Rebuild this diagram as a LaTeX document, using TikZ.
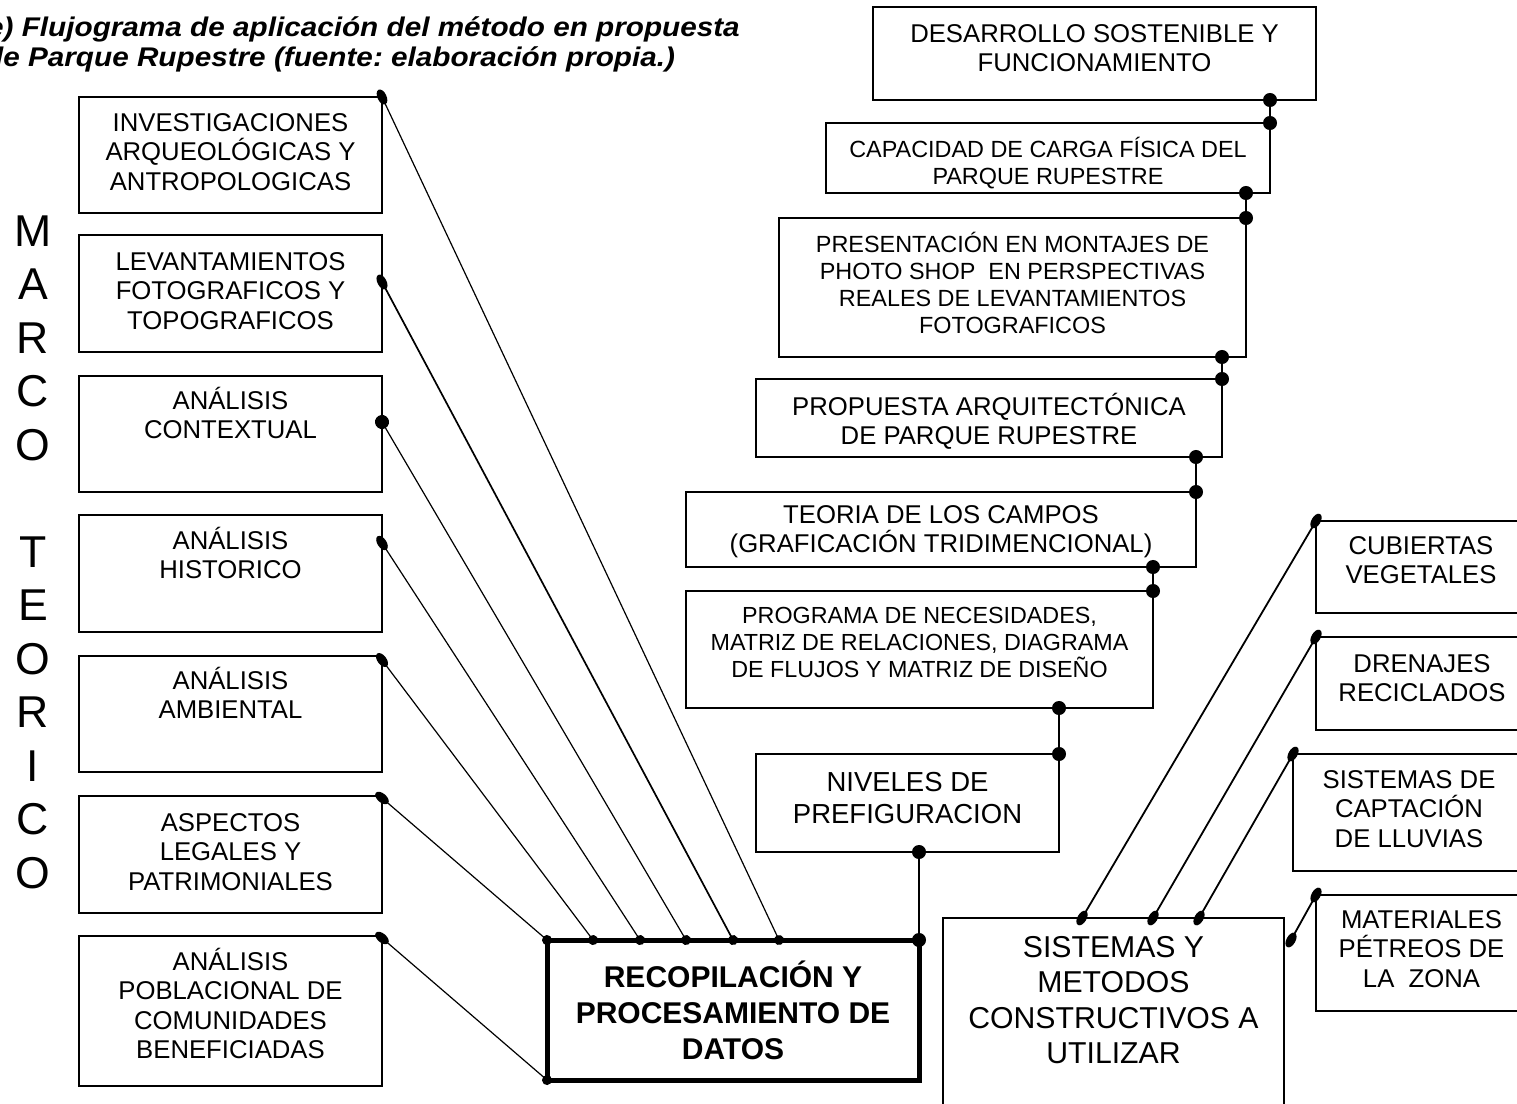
\documentclass[tikz,border=0pt]{standalone}
\usepackage{fontspec}
\setmainfont{Liberation Sans}
\newfontfamily\titlefont[FakeStretch=1.1]{Liberation Sans}
\usetikzlibrary{arrows.meta}
\frenchspacing

% text of a box, set from its top
\newcommand{\boxtxt}[4]{\parbox[c][#2bp][t]{#1bp}{\centering\rule{0pt}{#3bp}#4}}

\begin{document}
\begin{tikzpicture}[x=1bp, y=-1bp,
  box/.style={draw, line width=1.4bp, inner sep=0pt, outer sep=0pt, anchor=north west},
  std/.style={font=\fontsize{25.7bp}{29.6bp}\selectfont},
  small/.style={font=\fontsize{23.4bp}{27bp}\selectfont},
  mid/.style={font=\fontsize{23.3bp}{27bp}\selectfont},
  big/.style={font=\fontsize{27.5bp}{32bp}\selectfont},
  huge/.style={font=\fontsize{30.2bp}{35.5bp}\selectfont},
  mainbox/.style={draw, line width=5bp, inner sep=0pt, outer sep=0pt, anchor=north west,
    minimum width=372bp, minimum height=140bp, align=center,
    font=\bfseries\fontsize{30bp}{36bp}\selectfont},
  marco/.style={font=\fontsize{44.6bp}{53.5bp}\selectfont, inner sep=0pt},
  titulo/.style={font=\titlefont\bfseries\itshape\fontsize{27bp}{32bp}\selectfont, inner sep=0pt},
  fan/.style={line width=1.2bp, {Ellipse[length=16bp,width=9bp]}-{Circle[length=10bp]},
    shorten <=-8bp, shorten >=-5bp},
  fanc/.style={fan, {Circle[length=14bp]}-{Circle[length=10bp]}, shorten <=-7bp},
  vlink/.style={line width=1.8bp, {Circle[length=14bp]}-{Circle[length=14bp]},
    shorten <=-7bp, shorten >=-7bp},
  slink/.style={line width=1.8bp, {Ellipse[length=16bp,width=9bp]}-{Ellipse[length=16bp,width=9bp]},
    shorten <=-8bp, shorten >=-8bp}]

\useasboundingbox (0,0) rectangle (1517,1103);
\fill[white] (0,0) rectangle (1517,1103);
\clip (0,0) rectangle (1517,1103);

% title
\node[titulo, anchor=base west] (tit1) at (-13, 36) {e) Flujograma de aplicación del método en propuesta};
\node[titulo, anchor=base west] (tit2) at (-15, 66) {de Parque Rupestre (fuente: elaboración propia.)};

% marco teorico
\foreach \ltr/\k in {M/0,A/1,R/2,C/3,O/4,T/6,E/7,O/8,R/9,I/10,C/11,O/12}
  \node[marco] (mt\k) at (33, {231+53.5*\k}) {\ltr};

% left column
\node[box, std] (inv) at (79, 97) {\boxtxt{303}{116}{34}{INVESTIGACIONES\\ARQUEOLÓGICAS Y\\ANTROPOLOGICAS}};
\node[box, std] (lev) at (79, 235) {\boxtxt{303}{117}{35}{LEVANTAMIENTOS\\FOTOGRAFICOS Y\\TOPOGRAFICOS}};
\node[box, std] (ctx) at (79, 376) {\boxtxt{303}{116}{33}{ANÁLISIS\\CONTEXTUAL}};
\node[box, std] (his) at (79, 515) {\boxtxt{303}{117}{34}{ANÁLISIS\\HISTORICO}};
\node[box, std] (amb) at (79, 656) {\boxtxt{303}{116}{33}{ANÁLISIS\\AMBIENTAL}};
\node[box, std] (leg) at (79, 796) {\boxtxt{303}{117}{35}{ASPECTOS\\LEGALES Y\\PATRIMONIALES}};
\node[box, std] (pob) at (79, 936) {\boxtxt{303}{150}{34}{ANÁLISIS\\POBLACIONAL DE\\COMUNIDADES\\BENEFICIADAS}};

% central box
\node[mainbox] (rec) at (547, 940) {RECOPILACIÓN Y\\PROCESAMIENTO DE\\DATOS};

% right column
\node[box, std] (des) at (873, 7) {\boxtxt{443}{93}{35}{DESARROLLO SOSTENIBLE Y\\FUNCIONAMIENTO}};
\node[box, small] (cap) at (826, 123) {\boxtxt{444}{70}{34}{CAPACIDAD DE CARGA FÍSICA DEL\\PARQUE RUPESTRE}};
\node[box, small] (pre) at (779, 218) {\boxtxt{467}{139}{34}{PRESENTACIÓN EN MONTAJES DE\\PHOTO SHOP~ EN PERSPECTIVAS\\REALES DE LEVANTAMIENTOS\\FOTOGRAFICOS}};
\node[box, std] (pro) at (756, 379) {\boxtxt{466}{78}{36}{PROPUESTA ARQUITECTÓNICA\\DE PARQUE RUPESTRE}};
\node[box, std] (teo) at (686, 492) {\boxtxt{510}{75}{31}{TEORIA DE LOS CAMPOS\\(GRAFICACIÓN TRIDIMENCIONAL)}};
\node[box, mid] (prg) at (686, 591) {\boxtxt{467}{117}{32}{PROGRAMA DE NECESIDADES,\\MATRIZ DE RELACIONES, DIAGRAMA\\DE FLUJOS Y MATRIZ DE DISEÑO}};
\node[box, big] (niv) at (756, 754) {\boxtxt{303}{98}{37}{NIVELES DE\\PREFIGURACION}};

% construction systems
\node[box, huge] (sis) at (943, 918) {\boxtxt{341}{200}{39}{SISTEMAS Y\\METODOS\\CONSTRUCTIVOS A\\UTILIZAR}};
\node[box, std] (cub) at (1316, 521) {\boxtxt{210}{92}{33}{CUBIERTAS\\VEGETALES}};
\node[box, std] (dre) at (1316, 637) {\boxtxt{212}{93}{35}{DRENAJES\\RECICLADOS}};
\node[box, std] (cpt) at (1293, 754) {\boxtxt{232}{117}{34}{SISTEMAS DE\\CAPTACIÓN\\DE LLUVIAS}};
\node[box, std] (mat) at (1316, 895) {\boxtxt{211}{116}{33}{MATERIALES\\PÉTREOS DE\\LA~ ZONA}};
\coordinate (matend) at (1291, 940);

% links to the central box
\draw[fan] (inv.north east) -- ([xshift=232bp]rec.north west);
\draw[fan, line width=1.7bp] ([yshift=-47bp]lev.north east) -- ([xshift=186bp]rec.north west);
\draw[fanc] ([yshift=-46bp]ctx.north east) -- ([xshift=139bp]rec.north west);
\draw[fan] ([yshift=-28bp]his.north east) -- ([xshift=93bp]rec.north west);
\draw[fan] ([yshift=-4bp]amb.north east) -- ([xshift=46bp]rec.north west);
\draw[fan] ([yshift=-2bp]leg.north east) -- (rec.north west);
\draw[fan] ([yshift=-2bp]pob.north east) -- (rec.south west);

% steps of the proposal
\draw[vlink] (des.south -| cap.north east) -- (cap.north east);
\draw[vlink] (cap.south -| pre.north east) -- (pre.north east);
\draw[vlink] (pre.south -| pro.north east) -- (pro.north east);
\draw[vlink] (pro.south -| teo.north east) -- (teo.north east);
\draw[vlink] (teo.south -| prg.north east) -- (prg.north east);
\draw[vlink] (prg.south -| niv.north east) -- (niv.north east);
\draw[vlink] (niv.south -| rec.north east) -- (rec.north east);

% systems
\draw[slink] ([xshift=139bp]sis.north west) -- (cub.north west);
\draw[slink] ([xshift=210bp]sis.north west) -- (dre.north west);
\draw[slink] ([xshift=256bp]sis.north west) -- (cpt.north west);
\draw[slink] (mat.north west) -- (matend);

\end{tikzpicture}
\end{document}
